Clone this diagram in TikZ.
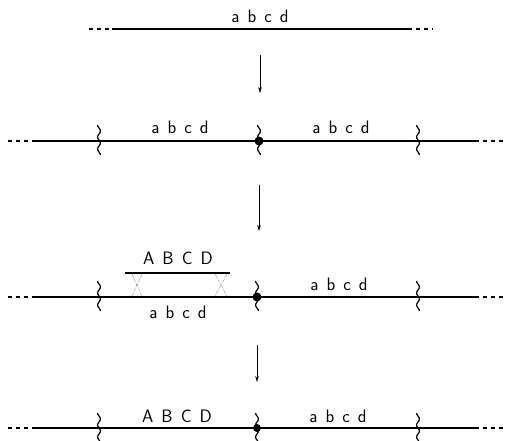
\documentclass[tikz,border=0pt]{standalone}
\usetikzlibrary{arrows.meta}
\usetikzlibrary{calc}

\tikzset{
  chrom/.style={line width=1.5pt},
  ends/.style={line width=1.4pt, dash pattern=on 4pt off 4pt},
  gene/.style={font=\fontsize{18}{21}\sffamily, execute at begin node={\spaceskip=0.45em\relax}, anchor=base, inner sep=0pt},
  step arrow/.style={thin, -{Stealth[length=6pt,width=3.5pt]}},
  cross/.style={thin, densely dotted},
  brk/.pic={\draw[line width=1.2pt] plot[domain=-15:15,samples=31,smooth] ({1.4*sin(\x*30)},\x);},
  centro/.style={circle, fill, inner sep=0pt, minimum size=9pt}
}

\begin{document}
\begin{tikzpicture}[x=1pt,y=-1pt]

		\useasboundingbox (0,0) rectangle (507,440);

		% row 1
		\coordinate (A1) at (89,29) ;
		\coordinate (B1) at (112,29) ;
		\coordinate (C1) at (408,29) ;
		\coordinate (D1) at (433,29) ;
		\draw [ends] (A1)--(B1);
		\draw [chrom] (B1)--(C1);
		\draw [ends] (C1)--(D1);
		\node [gene] (g1) at (260,22) {a b c d};

		\coordinate (P1) at (260,55);
		\coordinate (Q1) at (260,93);
		\draw [step arrow] (P1)--(Q1);

		% row 2
		\coordinate (A2) at (8,141) ;
		\coordinate (B2) at (35,141) ;
		\coordinate (C2) at (475,141) ;
		\coordinate (D2) at (505,141) ;
		\draw [ends] (A2)--(B2);
		\draw [chrom] (B2)--(C2);
		\draw [ends] (C2)--(D2);
		\pic at (99,140) {brk};
		\pic at (259,140) {brk};
		\pic at (418,140) {brk};
		\node [centro] (m2) at (259,141) {};
		\node [gene] (g2l) at (180,133) {a b c d};
		\node [gene] (g2r) at (341,133) {a b c d};

		\coordinate (P2) at (259,185);
		\coordinate (Q2) at (259,231);
		\draw [step arrow] (P2)--(Q2);

		% row 3
		\coordinate (A3) at (8,297) ;
		\coordinate (B3) at (35,297) ;
		\coordinate (C3) at (475,297) ;
		\coordinate (D3) at (505,297) ;
		\draw [ends] (A3)--(B3);
		\draw [chrom] (B3)--(C3);
		\draw [ends] (C3)--(D3);
		\pic at (99,296) {brk};
		\pic at (257,296) {brk};
		\pic at (418,296) {brk};
		\node [centro] (m3) at (257,297) {};
		\node [gene] (g3u) at (178,264) {A B C D};
		\node [gene] (g3d) at (178,318) {a b c d};
		\node [gene] (g3r) at (339,290) {a b c d};

		\coordinate (E3) at (125,273) ;
		\coordinate (F3) at (230,273) ;
		\draw [chrom] (E3)--(F3);

		% crossing over
		\draw [cross] (132,274)--(142,296);
		\draw [cross] (142,274)--(132,296);
		\draw [cross] (215,274)--(227,296);
		\draw [cross] (227,274)--(215,296);

		\coordinate (P3) at (257,345);
		\coordinate (Q3) at (257,382);
		\draw [step arrow] (P3)--(Q3);

		% row 4
		\coordinate (A4) at (8,428) ;
		\coordinate (B4) at (35,428) ;
		\coordinate (C4) at (475,428) ;
		\coordinate (D4) at (505,428) ;
		\draw [ends] (A4)--(B4);
		\draw [chrom] (B4)--(C4);
		\draw [ends] (C4)--(D4);
		\pic at (99,428) {brk};
		\pic at (257,428) {brk};
		\pic at (418,428) {brk};
		\node [centro, minimum size=8pt] (m4) at (257,428) {};
		\node [gene] (g4l) at (177,422) {A B C D};
		\node [gene] (g4r) at (338,422) {a b c d};

\end{tikzpicture}
\end{document}
